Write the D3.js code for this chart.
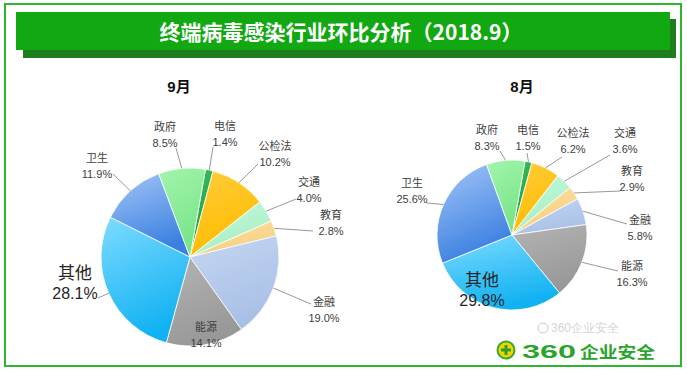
<!DOCTYPE html>
<html><head><meta charset="utf-8">
<script src="https://cdn.jsdelivr.net/npm/d3@7"></script>
<style>
html,body{margin:0;padding:0;background:#fff;}
svg{display:block;}
text{font-family:"Liberation Sans","Noto Sans CJK SC",Arial,sans-serif;}
</style></head>
<body>
<svg id="chart" width="687" height="372"></svg>
<script>
// ---------- data ----------
const mainTitle = "终端病毒感染行业环比分析（2018.9）";
const categories = ["电信","公检法","交通","教育","金融","能源","其他","卫生","政府"];
const sepValues = [1.4,10.2,4.0,2.8,19.0,14.1,28.1,11.9,8.5];
const augValues = [1.5,6.2,3.6,2.9,5.8,16.3,29.8,25.6,8.3];
const chartTitles = ["9月","8月"];
const brandText = "企业安全";
const brandNum = "360";

// ---------- styles ----------
const sliceColors = [
  ["#3cbf5c","#18a045"], // 电信
  ["#ffcd3a","#ffbb00"], // 公检法
  ["#c4f8da","#a6eec4"], // 交通
  ["#fbe0a0","#f5cf7f"], // 教育
  ["#c4d6f2","#a9c0e6"], // 金融
  ["#b4b4b4","#989898"], // 能源
  ["#7edcff","#12b2f2"], // 其他
  ["#a4c6f8","#3a80e0"], // 卫生
  ["#a2f5ac","#78e488"]  // 政府
];

// ---------- layout ----------
const charts = [
  { title: chartTitles[0], values: sepValues, cx:190, cy:257, r:89, tx:179, ty:86,
    labels: [
      {dx:35, dy:-131, ex:23, ey:-110},
      {dx:85, dy:-111, ex:68, ey:-93},
      {dx:119, dy:-75, ex:106, ey:-58},
      {dx:141, dy:-42, ex:123, ey:-26},
      {dx:134, dy:45, ex:121, ey:47},
      {dx:16, dy:70},
      {dx:-115, dy:16, ex:-92, ey:41, big:true},
      {dx:-93, dy:-99, ex:-77, ey:-83},
      {dx:-25, dy:-130, ex:-14, ey:-109}
    ]},
  { title: chartTitles[1], values: augValues, cx:512, cy:235, r:75, tx:522, ty:86,
    labels: [
      {dx:16, dy:-105, ex:15, ey:-82},
      {dx:61, dy:-102, ex:50, ey:-78},
      {dx:113, dy:-102, ex:98, ey:-80},
      {dx:120, dy:-64, ex:108, ey:-44},
      {dx:128, dy:-15, ex:115, ey:-11},
      {dx:120, dy:31, ex:106, ey:36},
      {dx:-30, dy:45, big:true},
      {dx:-100, dy:-52, ex:-85, ey:-32},
      {dx:-25, dy:-105, ex:-12, ey:-84}
    ]}
];

const svg = d3.select("#chart");
const defs = svg.append("defs");
sliceColors.forEach((c,i)=>{
  const g = defs.append("linearGradient").attr("id","g"+i)
    .attr("x1","0").attr("y1","0").attr("x2","0.35").attr("y2","1");
  g.append("stop").attr("offset","0%").attr("stop-color",c[0]);
  g.append("stop").attr("offset","100%").attr("stop-color",c[1]);
});

// outer frame
svg.append("rect").attr("x",5).attr("y",4).attr("width",676).attr("height",362)
  .attr("fill","#fff").attr("stroke","#2fb52f").attr("stroke-width",2);

// banner with shadow
svg.append("rect").attr("x",23).attr("y",19).attr("width",653).attr("height",39).attr("fill","#1e7d1e");
svg.append("rect").attr("x",16).attr("y",12).attr("width",654).attr("height",38).attr("fill","#11a811");
svg.append("text").attr("x",341).attr("y",31).attr("text-anchor","middle")
  .attr("dominant-baseline","central").attr("fill","#fff")
  .attr("font-size",21).attr("font-weight","bold")
  .style("font-family",'"Noto Sans CJK SC","Liberation Sans",sans-serif')
  .text(mainTitle);

const startA = 10*Math.PI/180;
charts.forEach(ch=>{
  const g = svg.append("g").attr("transform",`translate(${ch.cx},${ch.cy})`);
  const pie = d3.pie().sort(null).startAngle(startA).endAngle(startA+2*Math.PI);
  const arcs = pie(ch.values);
  const arc = d3.arc().innerRadius(0).outerRadius(ch.r);
  g.selectAll("path.slice").data(arcs).join("path").attr("class","slice")
    .attr("d",arc).attr("fill",(d,i)=>`url(#g${i})`)
    .attr("stroke","#fff").attr("stroke-width",0.8).attr("stroke-linejoin","round");

  // leader lines
  arcs.forEach((d,i)=>{
    const L = ch.labels[i];
    if (L.ex === undefined) return;
    const m = (d.startAngle+d.endAngle)/2;
    const px = ch.r*Math.sin(m), py = -ch.r*Math.cos(m);
    g.append("line").attr("x1",px).attr("y1",py).attr("x2",L.ex).attr("y2",L.ey)
      .attr("stroke","#8c8c8c").attr("stroke-width",0.9);
  });

  // labels
  arcs.forEach((d,i)=>{
    const L = ch.labels[i];
    const t = g.append("text").attr("text-anchor","middle").attr("fill", L.big ? "#262626" : "#404040");
    t.append("tspan").attr("x",L.dx).attr("y",L.dy).attr("dominant-baseline","central")
      .attr("font-size", L.big ? 17 : 11).text(categories[i]);
    t.append("tspan").attr("x",L.dx).attr("y",L.dy + (L.big ? 20 : 16)).attr("dominant-baseline","central")
      .attr("font-size", L.big ? 16 : 11).text(d3.format(".1f")(ch.values[i]) + "%");
  });

  svg.append("text").attr("x",ch.tx).attr("y",ch.ty).attr("text-anchor","middle")
    .attr("dominant-baseline","central").attr("font-size",15).attr("font-weight","bold")
    .attr("fill","#111").text(ch.title);
});

// watermark / brand
const wm = svg.append("g");
wm.append("circle").attr("cx",543).attr("cy",328).attr("r",5).attr("fill","none").attr("stroke","#c8c8c8").attr("stroke-width",1);
wm.append("text").attr("x",551).attr("y",328).attr("dominant-baseline","central")
  .attr("font-size",12).attr("fill","#c8c8c8").attr("fill-opacity",0.8)
  .style("font-family",'"Liberation Sans",sans-serif').text(brandNum + brandText);
wm.append("circle").attr("cx",506).attr("cy",350).attr("r",8.5).attr("fill","#f2d500").attr("stroke","#3aa935").attr("stroke-width",2);
wm.append("path").attr("d","M506,345V355M501,350H511").attr("stroke","#2e9e2e").attr("stroke-width",3);
wm.append("text").attr("x",522).attr("y",351).attr("dominant-baseline","central")
  .attr("font-size",19).attr("font-weight","bold").attr("fill","#2aa52a")
  .attr("textLength",54).attr("lengthAdjust","spacingAndGlyphs").text(brandNum);
wm.append("text").attr("x",580).attr("y",351).attr("dominant-baseline","central")
  .attr("font-size",16).attr("font-weight","bold").attr("fill","#2aa52a")
  .attr("textLength",75).attr("lengthAdjust","spacingAndGlyphs")
  .style("font-family",'"Noto Sans CJK SC",sans-serif').text(brandText);
</script>
</body></html>
